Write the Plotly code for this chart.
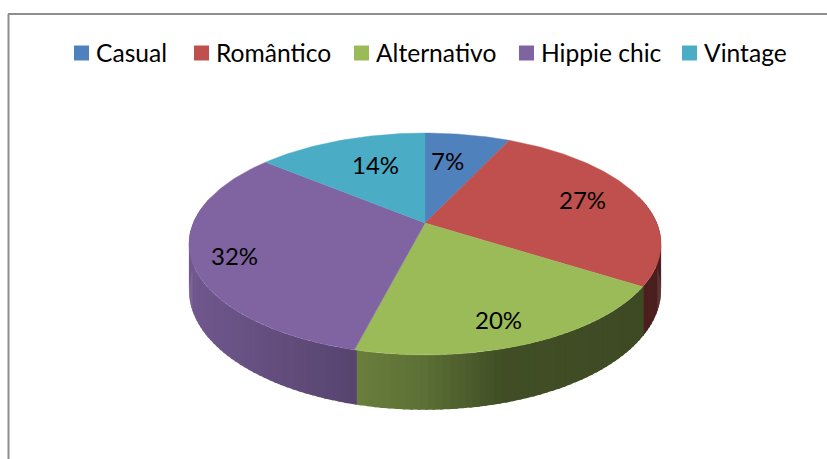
import math
import plotly.graph_objects as go

categories = ["Casual", "Romântico", "Alternativo", "Hippie chic", "Vintage"]
values = [7, 27, 20, 32, 14]
colors = ["#4f81bd", "#c0504d", "#9bbb59", "#8064a2", "#4bacc6"]

# projection of the pie disc, in pixels of the 827x459 picture
CX, CY, RX, RY, PERSP, DEPTH = 425, 223, 231.8, 107, 0.189, 44.5
# wall shading by horizontal position
SHADE_X = [185, 355, 420, 500, 665]
SHADE_F = [0.88, 0.68, 0.60, 0.42, 0.39]
STEP_DEG = 1.5

LEGEND_SWATCH_X = [81.5, 201.5, 361.5, 526.5, 689.5]
LEGEND_TEXT_X = [94, 214, 374, 539, 702]
LEGEND_Y = 52
LABEL_X = [447, 582, 498, 234, 375]
LABEL_Y = [160, 199, 319, 255, 164]


def project(theta, r=1.0, drop=0.0):
    u, v = r * math.sin(theta), r * math.cos(theta)
    w = 1 + PERSP * v
    return CX + RX * u / w, CY - RY * v / w + drop / w


def shade(x):
    if x <= SHADE_X[0]:
        return SHADE_F[0]
    for i in range(len(SHADE_X) - 1):
        if x <= SHADE_X[i + 1]:
            t = (x - SHADE_X[i]) / (SHADE_X[i + 1] - SHADE_X[i])
            return SHADE_F[i] + t * (SHADE_F[i + 1] - SHADE_F[i])
    return SHADE_F[-1]


def scaled(hex_color, f):
    rgb = [int(hex_color[i:i + 2], 16) for i in (1, 3, 5)]
    return "rgb(%d,%d,%d)" % tuple(round(c * f) for c in rgb)


fig = go.Figure()
total = sum(values)
bounds = [0.0]
for val in values:
    bounds.append(bounds[-1] + val / total * 2 * math.pi)

# side wall, one narrow strip at a time, each slightly overlapping the next
for i, col in enumerate(colors):
    a0, a1 = bounds[i], bounds[i + 1]
    n = max(1, int(math.degrees(a1 - a0) / STEP_DEG))
    for j in range(n):
        t0 = a0 + (a1 - a0) * j / n
        t1 = a0 + (a1 - a0) * (j + 1) / n
        if math.cos((t0 + t1) / 2) > 0.25:
            continue
        # the first strip of a slice reaches back under its neighbour to close the seam
        t0x = t0 - math.radians(0.5) if j == 0 else t0
        t1x = min(a1, t1 + math.radians(0.6))
        p = [project(t0x), project(t1x), project(t1x, drop=DEPTH), project(t0x, drop=DEPTH)]
        xs = [q[0] for q in p] + [p[0][0]]
        ys = [q[1] for q in p] + [p[0][1]]
        c = scaled(col, shade(sum(q[0] for q in p) / 4))
        fig.add_trace(go.Scatter(x=xs, y=ys, mode="none", fill="toself", fillcolor=c,
                                 hoverinfo="skip", showlegend=False))

# top of the disc
for i, col in enumerate(colors):
    a0, a1 = bounds[i], bounds[i + 1]
    n = max(2, int(math.degrees(a1 - a0)))
    pts = [(CX, CY)] + [project(a0 + (a1 - a0) * j / n) for j in range(n + 1)] + [(CX, CY)]
    fig.add_trace(go.Scatter(x=[q[0] for q in pts], y=[q[1] for q in pts], mode="lines",
                             fill="toself", fillcolor=col, line=dict(color=col, width=0.4),
                             name=categories[i], text=f"{categories[i]}: {values[i]}%",
                             hoverinfo="text", showlegend=False))

# legend swatches
fig.add_trace(go.Scatter(x=LEGEND_SWATCH_X, y=[LEGEND_Y + 1] * 5, mode="markers",
                         marker=dict(symbol="square", size=15, color=colors, line=dict(width=0)),
                         text=categories, hoverinfo="text", showlegend=False))

FONT = dict(family="Lato, Carlito, Calibri, sans-serif", size=24, color="#000000")
LEGEND_FONT = dict(FONT, size=24.6)
ann = []
for name, x in zip(categories, LEGEND_TEXT_X):
    ann.append(dict(x=x, y=LEGEND_Y, text=name, showarrow=False, xanchor="left", yanchor="middle", font=LEGEND_FONT))
for val, x, y in zip(values, LABEL_X, LABEL_Y):
    ann.append(dict(x=x, y=y, text=f"{val}%", showarrow=False, xanchor="center", yanchor="middle", font=FONT))

frame = dict(color="#8e8e8e", width=2)
fig.update_layout(
    width=827, height=459, autosize=False,
    margin=dict(l=0, r=0, t=0, b=0),
    paper_bgcolor="#ffffff", plot_bgcolor="#ffffff",
    xaxis=dict(range=[0, 827], visible=False, fixedrange=True),
    yaxis=dict(range=[459, 0], visible=False, fixedrange=True),
    annotations=ann,
    shapes=[
        dict(type="line", xref="x", yref="y", x0=8.5, x1=8.5, y0=14, y1=459, line=frame),
        dict(type="line", xref="x", yref="y", x0=8, x1=827, y0=14, y1=14, line=frame),
    ],
    hovermode="closest",
)
fig.write_html(
    "out.html",
    config={"displayModeBar": False},
    post_script="document.body.style.margin='0';document.documentElement.style.overflow='hidden';"
                "document.body.style.fontVariantLigatures='none';",
)
